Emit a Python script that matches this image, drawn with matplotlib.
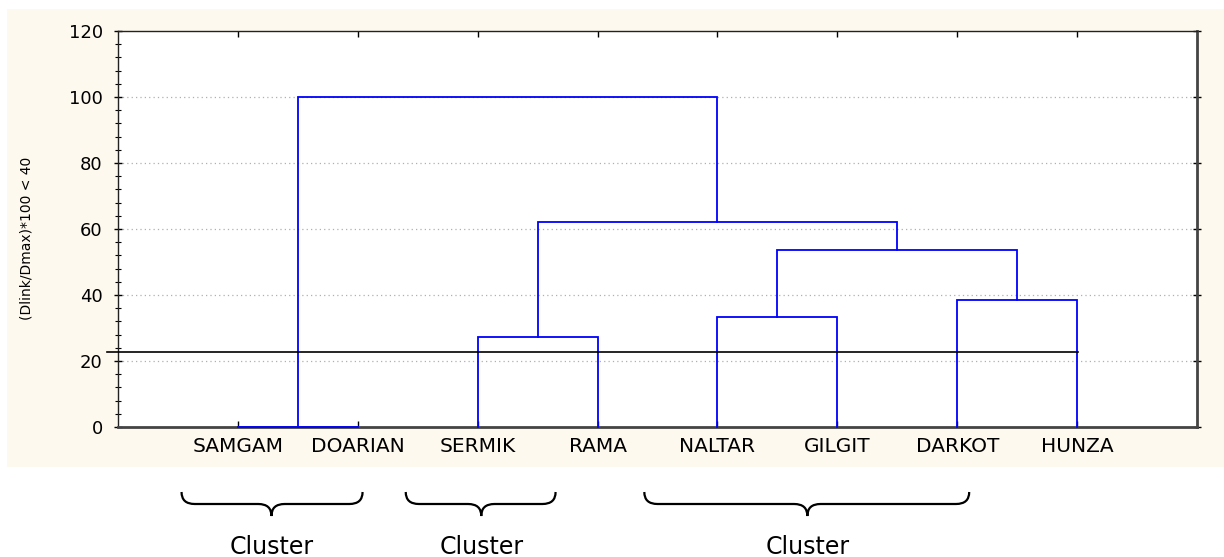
import matplotlib
matplotlib.use("Agg")
import matplotlib.pyplot as plt
from matplotlib.patches import Rectangle, PathPatch
from matplotlib.path import Path
import matplotlib.transforms as mtransforms
from matplotlib.ticker import MultipleLocator

# ---------------- data ----------------
leaves = ["SAMGAM", "DOARIAN", "SERMIK", "RAMA", "NALTAR", "GILGIT", "DARKOT", "HUNZA"]
# merges: (node_a, node_b, height); new nodes get ids 8, 9, 10, ...
merge_a = [0, 2, 4, 6, 10, 9, 8]
merge_b = [1, 3, 5, 7, 11, 12, 13]
merge_h = [0.0, 27.3, 33.3, 38.5, 53.6, 62.1, 100.0]
cut_level = 22.6
y_label = "(Dlink/Dmax)*100 < 40"
cluster_labels = ["Cluster", "Cluster", "Cluster"]
# brace spans in leaf units (start, end, tip)
brace_start = [-0.47, 1.40, 3.39]
brace_end = [1.04, 2.65, 6.10]
brace_tip = [0.28, 2.03, 4.75]

W, H = 1224, 557
fig = plt.figure(figsize=(W / 100, H / 100), dpi=100)
fig.patch.set_facecolor("white")
bg = Rectangle((7 / W, 1 - 467 / H), (W - 7) / W, (467 - 9) / H,
               transform=fig.transFigure, facecolor="#FEF9EE",
               edgecolor="none", zorder=-10)
fig.add_artist(bg)

left, right, top, bottom = 118, 1197, 31, 427
ax = fig.add_axes([left / W, 1 - bottom / H, (right - left) / W, (bottom - top) / H])
ax.set_zorder(1)
ax.set_facecolor("white")

# ---------------- dendrogram ----------------
pos = {i: float(i) for i in range(len(leaves))}
hgt = {i: 0.0 for i in range(len(leaves))}
blue = "#0000FF"
for k, (a, b, h) in enumerate(zip(merge_a, merge_b, merge_h)):
    xa, xb = pos[a], pos[b]
    ax.plot([xa, xa, xb, xb], [hgt[a], h, h, hgt[b]], color=blue, lw=1.3,
            solid_joinstyle="miter", clip_on=False, zorder=4)
    nid = len(leaves) + k
    pos[nid] = (xa + xb) / 2
    hgt[nid] = h

# cut line (extends slightly outside the plot frame on the left)
ax.plot([-1.09, 7.01], [cut_level, cut_level], color="black", lw=1.2,
        clip_on=False, zorder=5)

ax.set_xlim(-1, 8)
ax.set_ylim(0, 120)
ax.set_xticks(range(len(leaves)))
ax.set_xticklabels(leaves, fontsize=14.5, family="DejaVu Sans")
ax.yaxis.set_major_locator(MultipleLocator(20))
ax.yaxis.set_minor_locator(MultipleLocator(4))
ax.tick_params(axis="y", which="major", direction="inout", length=6, width=1,
               labelsize=13, pad=8, right=True, left=True)
ax.tick_params(axis="y", which="minor", direction="inout", length=4, width=0.8,
               left=True, right=False)
ax.tick_params(axis="x", which="major", direction="in", length=4, width=1,
               top=True, bottom=True, pad=7)
for lbl in ax.get_yticklabels():
    lbl.set_family("DejaVu Sans")

# dotted grid
for yv in [20, 40, 60, 80, 100]:
    ax.axhline(yv, color="#B0B0B0", lw=0.9, linestyle=(0, (1, 2.5)), zorder=1)

for s in ["top", "left"]:
    ax.spines[s].set_color("#222222")
    ax.spines[s].set_linewidth(1.0)
for s in ["right", "bottom"]:
    ax.spines[s].set_color("#444444")
    ax.spines[s].set_linewidth(2.0)

fig.text(27 / W, 1 - 238 / H, y_label, rotation=90, ha="center", va="center",
         fontsize=10, family="DejaVu Sans")

# ---------------- braces ----------------
tr = mtransforms.blended_transform_factory(ax.transData, fig.transFigure)
y_top = 1 - 492 / H
y_flat = 1 - 504 / H
y_tip = 1 - 516 / H
r = 0.11
for x0, x1, xm, lab in zip(brace_start, brace_end, brace_tip, cluster_labels):
    verts = [(x0, y_top), (x0, y_flat), (x0 + r, y_flat),
             (xm - r, y_flat),
             (xm, y_flat), (xm, y_tip),
             (xm, y_flat), (xm + r, y_flat),
             (x1 - r, y_flat),
             (x1, y_flat), (x1, y_top)]
    codes = [Path.MOVETO, Path.CURVE3, Path.CURVE3,
             Path.LINETO,
             Path.CURVE3, Path.CURVE3,
             Path.CURVE3, Path.CURVE3,
             Path.LINETO,
             Path.CURVE3, Path.CURVE3]
    fig.add_artist(PathPatch(Path(verts, codes), transform=tr, facecolor="none",
                             edgecolor="black", lw=1.6, zorder=3))
    fig.text(xm, 1 - 554 / H, lab, transform=tr, ha="center", va="baseline",
             fontsize=17, family="DejaVu Sans")

fig.savefig("out.png", dpi=100)
